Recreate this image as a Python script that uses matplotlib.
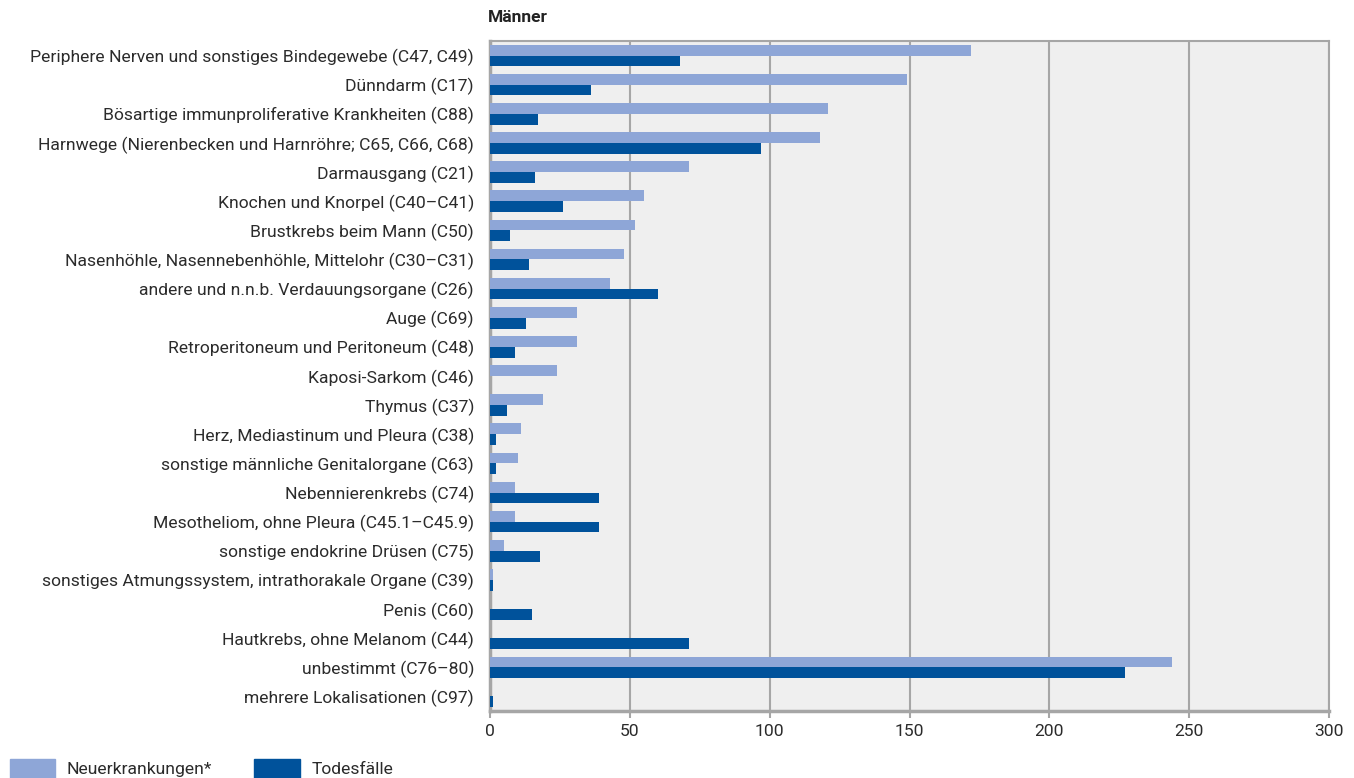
import matplotlib.pyplot as plt
import numpy as np
from matplotlib.patches import Patch

plt.rcParams['font.family'] = ['Roboto', 'DejaVu Sans']

# data
categories = [
    "Periphere Nerven und sonstiges Bindegewebe (C47, C49)",
    "Dünndarm (C17)",
    "Bösartige immunproliferative Krankheiten (C88)",
    "Harnwege (Nierenbecken und Harnröhre; C65, C66, C68)",
    "Darmausgang (C21)",
    "Knochen und Knorpel (C40–C41)",
    "Brustkrebs beim Mann (C50)",
    "Nasenhöhle, Nasennebenhöhle, Mittelohr (C30–C31)",
    "andere und n.n.b. Verdauungsorgane (C26)",
    "Auge (C69)",
    "Retroperitoneum und Peritoneum (C48)",
    "Kaposi-Sarkom (C46)",
    "Thymus (C37)",
    "Herz, Mediastinum und Pleura (C38)",
    "sonstige männliche Genitalorgane (C63)",
    "Nebennierenkrebs (C74)",
    "Mesotheliom, ohne Pleura (C45.1–C45.9)",
    "sonstige endokrine Drüsen (C75)",
    "sonstiges Atmungssystem, intrathorakale Organe (C39)",
    "Penis (C60)",
    "Hautkrebs, ohne Melanom (C44)",
    "unbestimmt (C76–80)",
    "mehrere Lokalisationen (C97)",
]
neuerkrankungen = [172, 149, 121, 118, 71, 55, 52, 48, 43, 31, 31, 24, 19, 11, 10, 9, 9, 5, 1, 0, 0, 244, 0]
todesfaelle = [68, 36, 17, 97, 16, 26, 7, 14, 60, 13, 9, 0, 6, 2, 2, 39, 39, 18, 1, 15, 71, 227, 1]
xticks = [0, 50, 100, 150, 200, 250, 300]

light = '#8ea6d7'
dark = '#00529b'
gray = '#a6a6a6'
textcol = '#2b2b2b'

fig = plt.figure(figsize=(13.54, 7.78), dpi=100)
ax = fig.add_axes([490/1354, 1 - 711/778, (1329-490)/1354, (711-41)/778])
ax.set_facecolor('#efefef')

y = np.arange(len(categories))
h = 0.37
ax.barh(y - h/2, neuerkrankungen, height=h, color=light, zorder=3)
ax.barh(y + h/2, todesfaelle, height=h, color=dark, zorder=3)

ax.set_ylim(len(categories) - 0.5, -0.5)
ax.set_xlim(0, 300)
ax.set_xticks(xticks)
ax.set_yticks(y)
ax.set_yticklabels(categories, fontsize=12.6, color=textcol)
ax.tick_params(axis='y', length=0, pad=11.5)
ax.tick_params(axis='x', length=5, width=1.5, color=gray, labelsize=12.6, labelcolor=textcol, pad=4)
ax.grid(axis='x', color=gray, linewidth=1.5, zorder=1)
for s in ax.spines.values():
    s.set_color(gray)
    s.set_linewidth(1.5)
ax.spines['left'].set_linewidth(2.5)
ax.spines['bottom'].set_linewidth(2.5)

fig.text(488/1354, 1 - 17/778, "Männer", fontsize=12.5, fontweight='bold', va='center', ha='left', color='#222222')

handles = [Patch(color=light, label='Neuerkrankungen*'), Patch(color=dark, label='Todesfälle')]
fig.legend(handles=handles, loc='lower left', bbox_to_anchor=(10/1354, 0.0), ncol=2, frameon=False,
           borderpad=0, borderaxespad=0,
           prop={'size': 12.6}, handlelength=2.6, handleheight=1.3,
           columnspacing=2.4, handletextpad=0.65, labelcolor=textcol)

fig.savefig('out.png', dpi=100)
